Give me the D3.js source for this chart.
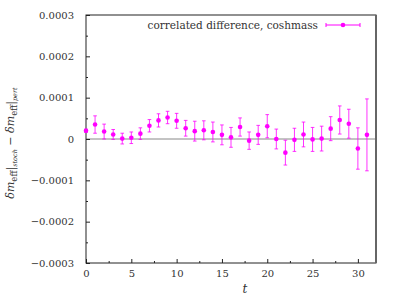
<!DOCTYPE html>
<html lang="en">
<head>
  <meta charset="utf-8">
  <script src="https://d3js.org/d3.v7.min.js"></script>
  <style>
    body { margin: 0; background: #fff; }
  </style>
</head>
<body>
  <div class="chart"></div>
<script>
  // values in units of 1e-4
  const tValues = d3.range(0, 32);
  const diffValues = [0.20, 0.35, 0.18, 0.11, 0.01, 0.03, 0.13, 0.32, 0.45, 0.52,
    0.44, 0.26, 0.19, 0.21, 0.17, 0.10, 0.04, 0.29, -0.04, 0.10,
    0.31, 0.00, -0.33, -0.02, 0.11, -0.01, 0.01, 0.25, 0.46, 0.37,
    -0.23, 0.10];
  const diffErrors = [0.04, 0.21, 0.18, 0.12, 0.13, 0.14, 0.14, 0.15, 0.16, 0.15,
    0.18, 0.19, 0.24, 0.23, 0.24, 0.24, 0.24, 0.22, 0.21, 0.23,
    0.28, 0.24, 0.30, 0.28, 0.30, 0.29, 0.30, 0.29, 0.34, 0.35,
    0.50, 0.87];
  const yTicks = [-0.0003, -0.0002, -0.0001, 0, 0.0001, 0.0002, 0.0003];
  const xTicks = [0, 5, 10, 15, 20, 25, 30];
  const legendLabel = "correlated difference, coshmass";

  const data = tValues.map((t, i) => ({ t: t, v: diffValues[i] * 1e-4, e: diffErrors[i] * 1e-4 }));

  const margin = { top: 15, left: 86, bottom: 36, right: 23 };
  const width = 399 - margin.left - margin.right;
  const height = 299 - margin.top - margin.bottom;
  const color = '#ff00ff';
  const serif = "'DejaVu Serif', serif";

  const svg = d3.select('.chart')
    .append('svg')
    .attr('width', 399)
    .attr('height', 299)
    .append('g')
    .attr('transform', `translate(${margin.left},${margin.top})`);

  const x = d3.scaleLinear().domain([0, 32]).range([0, width]);
  const y = d3.scaleLinear().domain([-0.0003, 0.0003]).range([height, 0]);

  // zero line
  svg.append('line')
    .attr('x1', 0).attr('x2', width)
    .attr('y1', y(0)).attr('y2', y(0))
    .attr('stroke', '#888').attr('stroke-width', 1);

  // axes with inward ticks
  const yAxis = d3.axisLeft(y).tickValues(yTicks).tickSize(-4)
    .tickFormat(d => d === 0 ? '0' : (d < 0 ? '\u2212' : '') + Math.abs(d).toFixed(4));
  const yMinor = d3.axisLeft(y).tickValues(d3.range(-0.00025, 0.0003, 0.0001)).tickSize(-2).tickFormat('');
  const xAxis = d3.axisBottom(x).tickValues(xTicks).tickSize(-4);
  const xMinor = d3.axisBottom(x).tickValues(d3.range(2.5, 32, 5)).tickSize(-2).tickFormat('');

  const gy = svg.append('g').call(yAxis).attr('font-family', serif).attr('font-size', 10);
  gy.selectAll('text').attr('x', -12).attr('fill', '#333');
  svg.append('g').call(yMinor);
  const gx = svg.append('g').attr('transform', `translate(0,${height})`).call(xAxis)
    .attr('font-family', serif).attr('font-size', 10);
  gx.selectAll('text').attr('y', 7).attr('fill', '#333');
  svg.append('g').attr('transform', `translate(0,${height})`).call(xMinor);
  svg.selectAll('.domain').remove();
  svg.selectAll('.tick line').attr('stroke', '#222');

  // frame
  svg.append('rect')
    .attr('width', width).attr('height', height)
    .attr('fill', 'none').attr('stroke', '#222').attr('stroke-width', 1);
  svg.append('line')
    .attr('x1', width).attr('x2', width).attr('y1', 0).attr('y2', height)
    .attr('stroke', '#666').attr('stroke-width', 2);

  // error bars
  const cap = 1.8;
  const eb = svg.append('g').attr('stroke', color).attr('stroke-width', 1).attr('stroke-opacity', 0.8);
  eb.selectAll('.bar').data(data).enter().append('line')
    .attr('x1', d => x(d.t)).attr('x2', d => x(d.t))
    .attr('y1', d => y(d.v - d.e)).attr('y2', d => y(d.v + d.e));
  eb.selectAll('.capTop').data(data).enter().append('line')
    .attr('x1', d => x(d.t) - cap).attr('x2', d => x(d.t) + cap)
    .attr('y1', d => y(d.v + d.e)).attr('y2', d => y(d.v + d.e));
  eb.selectAll('.capBot').data(data).enter().append('line')
    .attr('x1', d => x(d.t) - cap).attr('x2', d => x(d.t) + cap)
    .attr('y1', d => y(d.v - d.e)).attr('y2', d => y(d.v - d.e));

  svg.selectAll('.pt').data(data).enter().append('circle')
    .attr('cx', d => x(d.t)).attr('cy', d => y(d.v))
    .attr('r', 2.3).attr('fill', color);

  // legend
  const ly = 10;
  svg.append('text')
    .attr('x', 232).attr('y', ly + 3.5)
    .attr('text-anchor', 'end').attr('font-size', 10.5)
    .attr('font-family', serif).attr('fill', '#333')
    .text(legendLabel);
  const lg = svg.append('g').attr('stroke', color).attr('stroke-width', 1);
  lg.append('line').attr('x1', 240).attr('x2', 274).attr('y1', ly).attr('y2', ly);
  lg.append('line').attr('x1', 240).attr('x2', 240).attr('y1', ly - 2).attr('y2', ly + 2);
  lg.append('line').attr('x1', 274).attr('x2', 274).attr('y1', ly - 2).attr('y2', ly + 2);
  svg.append('circle').attr('cx', 257).attr('cy', ly).attr('r', 2.3).attr('fill', color);

  // x label
  svg.append('text')
    .attr('x', width / 2 + 14).attr('y', height + 30)
    .attr('text-anchor', 'middle').attr('font-size', 12).attr('font-style', 'italic')
    .attr('font-family', serif).attr('fill', '#333')
    .text('t');

  // y label
  const yl = svg.append('text')
    .attr('transform', `translate(${-72},${y(0) + 4}) rotate(-90)`)
    .attr('text-anchor', 'middle').attr('font-size', 11)
    .attr('font-family', serif).attr('fill', '#333');
  yl.append('tspan').attr('font-style', 'italic').text('\u03b4m');
  yl.append('tspan').attr('font-size', 8.5).attr('dy', 2.5).text('eff');
  yl.append('tspan').attr('dy', -2.5).text('|');
  yl.append('tspan').attr('font-size', 6.5).attr('font-style', 'italic').attr('dy', 2.5).text('stoch');
  yl.append('tspan').attr('dy', -2.5).text(' \u2212 ');
  yl.append('tspan').attr('font-style', 'italic').text('\u03b4m');
  yl.append('tspan').attr('font-size', 8.5).attr('dy', 2.5).text('eff');
  yl.append('tspan').attr('dy', -2.5).text('|');
  yl.append('tspan').attr('font-size', 6.5).attr('font-style', 'italic').attr('dy', 2.5).text('pert');
</script>
</body>
</html>
